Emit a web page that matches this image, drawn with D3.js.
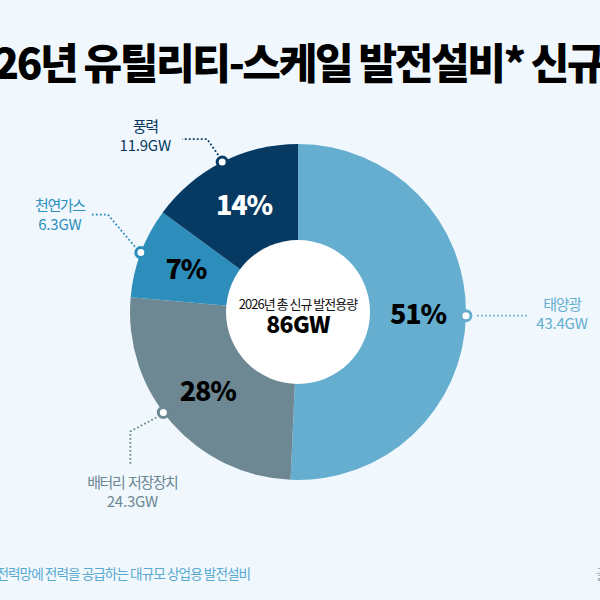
<!DOCTYPE html>
<html><head><meta charset="utf-8">
<script src="https://cdn.jsdelivr.net/npm/d3@7"></script>
<style>
html,body{margin:0;padding:0;background:#f0f8fe;}
svg{display:block;font-family:"Noto Sans CJK KR","Noto Sans",sans-serif;}
</style></head>
<body><svg id="c" width="600" height="600"></svg>
<script>
const categories = ["태양광", "배터리 저장장치", "천연가스", "풍력"];
const valuesGW = [43.4, 24.3, 6.3, 11.9];
// sector shares as drawn in the picture (%)
const sectorShares = [50.7, 25.7, 8.7, 14.9];
const valueLabels = ["43.4GW", "24.3GW", "6.3GW", "11.9GW"];
const percentLabels = ["51%", "28%", "7%", "14%"];
const colors = ["#65aed0", "#6d8893", "#2e8ebb", "#063a63"];
const percentColors = ["#000", "#000", "#000", "#fff"];
const titleText = "2026년 유틸리티-스케일 발전설비* 신규 용량";
const centerTitle = "2026년 총 신규 발전용량";
const centerValue = "86GW";
const footnote = "*전력망에 전력을 공급하는 대규모 상업용 발전설비";
const sourceText = "출처: EIA";

const svg = d3.select("#c");
const cx = 298, cy = 312, rOut = 168, rIn = 72;

svg.append("text").attr("x", -53).attr("y", 79)
  .attr("font-size", 42).attr("font-weight", 900).attr("letter-spacing", -2.35)
  .attr("fill", "#000").text(titleText);

const g = svg.append("g").attr("transform", `translate(${cx},${cy})`);
const pie = d3.pie().sort(null).value(d => d)(sectorShares);
const arc = d3.arc().innerRadius(0).outerRadius(rOut);
const labelArc = d3.arc().innerRadius(120).outerRadius(120);

g.selectAll("path.s").data(pie).join("path").attr("class", "s")
  .attr("d", arc).attr("fill", (d, i) => colors[i]);

g.append("circle").attr("r", rIn).attr("fill", "#fff");

g.selectAll("text.p").data(pie).join("text").attr("class", "p")
  .attr("transform", d => `translate(${labelArc.centroid(d)})`)
  .attr("text-anchor", "middle").attr("dy", "0.36em")
  .attr("font-size", 27).attr("font-weight", 900).attr("letter-spacing", -1.2)
  .attr("fill", (d, i) => percentColors[i]).text((d, i) => percentLabels[i]);

g.append("text").attr("text-anchor", "middle").attr("y", -3)
  .attr("font-size", 13).attr("letter-spacing", -1).attr("fill", "#111").text(centerTitle);
g.append("text").attr("text-anchor", "middle").attr("y", 21)
  .attr("font-size", 23).attr("font-weight", 900).attr("letter-spacing", -0.6).attr("fill", "#000").text(centerValue);

// small angle nudges (degrees) for the marker dots
const dotNudge = [0, 4.5, 0, 0];
const pos = pie.map((d, i) => {
  const a = (d.startAngle + d.endAngle) / 2 + dotNudge[i] * Math.PI / 180;
  return [Math.sin(a) * rOut, -Math.cos(a) * rOut];
});
const leaders = [
  p => [[p[0] + 11, p[1]], [p[0] + 61, p[1]]],
  p => [[p[0] - 7, p[1] + 5], [p[0] - 33, p[1] + 19], [p[0] - 33, p[1] + 52]],
  p => [[p[0] - 6, p[1] - 6], [p[0] - 33, p[1] - 38], [p[0] - 50, p[1] - 38]],
  p => [[p[0] - 4, p[1] - 7], [p[0] - 15, p[1] - 23], [p[0] - 40, p[1] - 23]]
];
const labelPos = [
  p => [p[0] + 96, p[1] - 6],
  p => [p[0] - 31, p[1] + 76],
  p => [p[0] - 81, p[1] - 42],
  p => [p[0] - 77, p[1] - 30]
];
const line = d3.line();
pie.forEach((d, i) => {
  const p = pos[i];
  g.append("path").attr("d", line(leaders[i](p))).attr("fill", "none")
    .attr("stroke", colors[i]).attr("stroke-width", 1.8).attr("stroke-dasharray", "1.8,2.2");
  g.append("circle").attr("cx", p[0]).attr("cy", p[1]).attr("r", 5)
    .attr("fill", "#fff").attr("stroke", colors[i]).attr("stroke-width", 3);
  const lp = labelPos[i](p);
  const t = g.append("text").attr("text-anchor", "middle")
    .attr("font-size", 15).attr("fill", colors[i]);
  t.append("tspan").attr("x", lp[0]).attr("y", lp[1]).attr("letter-spacing", -1.4)
    .attr("word-spacing", 1.5).text(categories[i]);
  t.append("tspan").attr("x", lp[0]).attr("y", lp[1] + 19).attr("letter-spacing", -0.2).text(valueLabels[i]);
});

svg.append("text").attr("x", -9).attr("y", 579)
  .attr("font-size", 13.7).attr("letter-spacing", -1).attr("fill", "#5aaad0").text(footnote);
svg.append("text").attr("x", 596).attr("y", 579)
  .attr("font-size", 13.5).attr("fill", "#9aa4aa").text(sourceText);
</script></body></html>
